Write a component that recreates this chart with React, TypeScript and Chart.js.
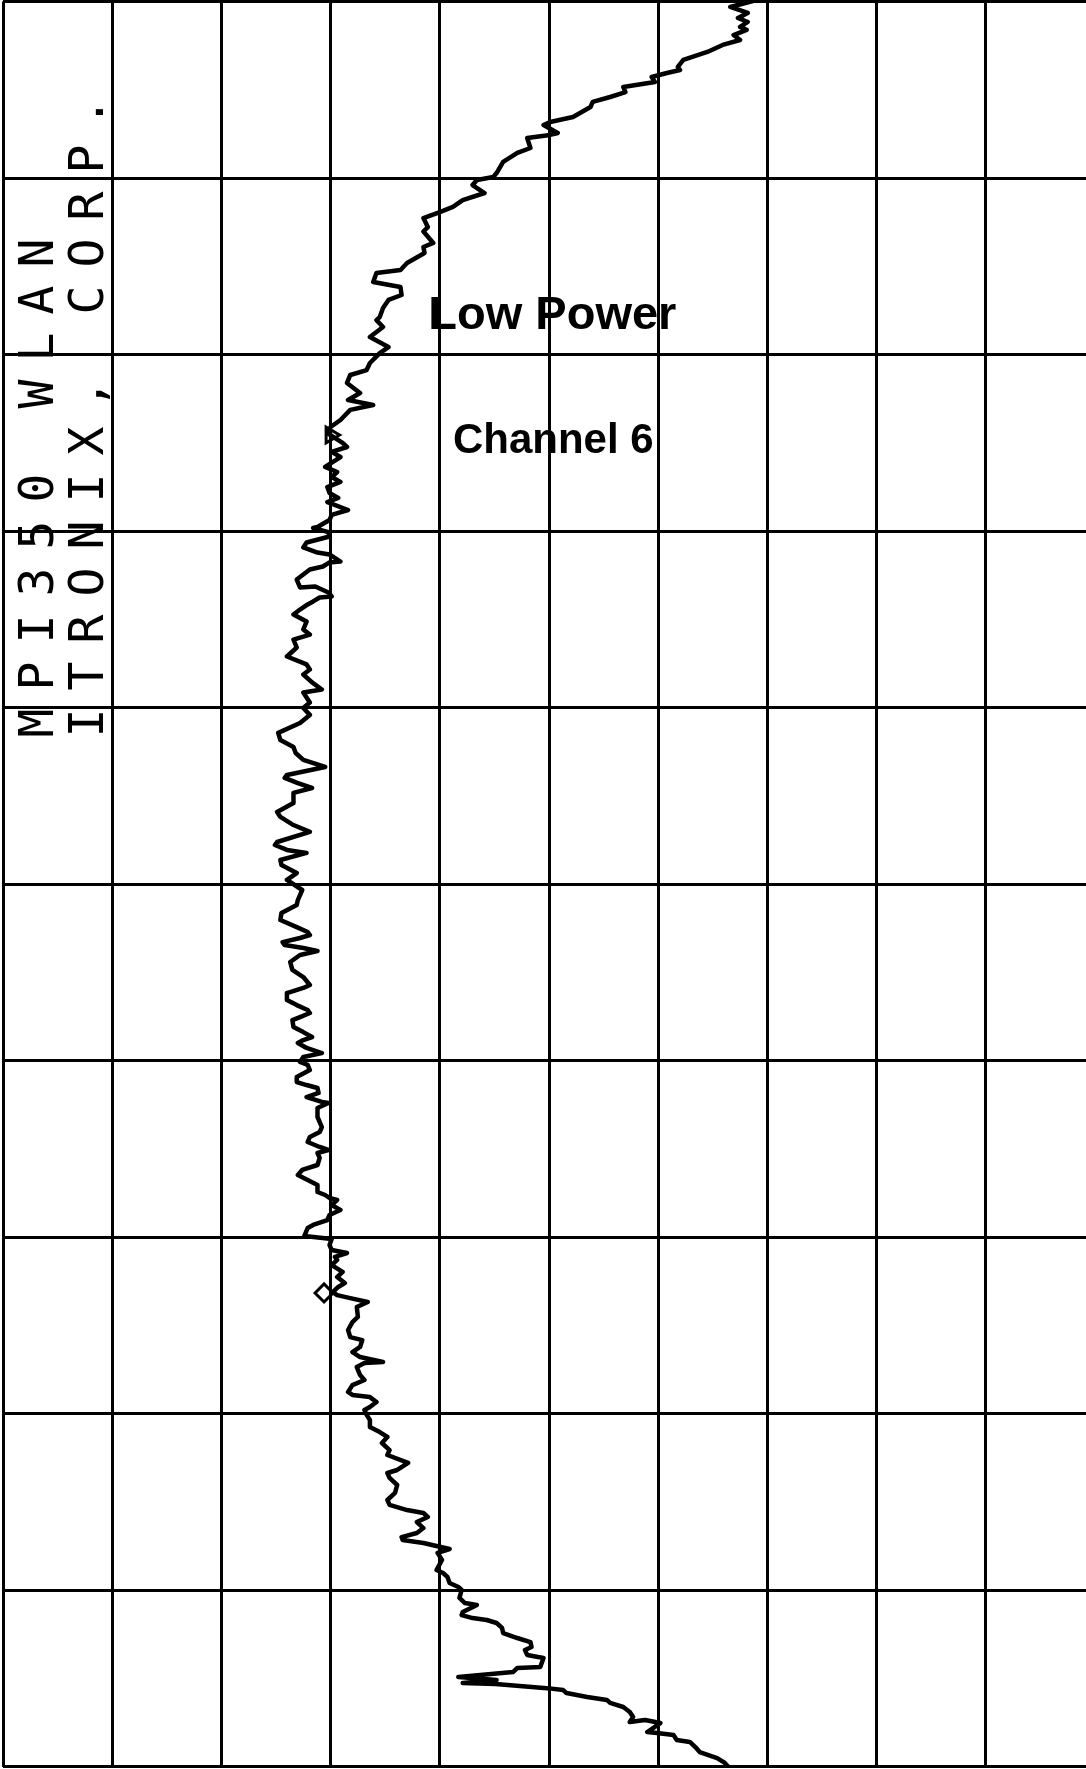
import React, { useEffect, useRef } from "react";
import { Chart, registerables } from "chart.js";

Chart.register(...registerables);

// Power axis (horizontal, in divisions from the left edge)
const tracePower = [
  6.91, 6.66, 6.82, 6.73, 6.82, 6.75, 6.81, 6.69, 6.75, 6.59,
  6.45, 6.23, 6.18, 6.20, 6.08, 5.94, 5.97, 5.68, 5.70, 5.56,
  5.40, 5.38, 5.22, 5.01, 4.95, 5.08, 5.01, 4.80, 4.83, 4.71,
  4.58, 4.52, 4.49, 4.34, 4.30, 4.41, 4.21, 4.12, 4.00, 3.85,
  3.89, 3.85, 3.94, 3.85, 3.86, 3.70, 3.64, 3.42, 3.39, 3.64,
  3.65, 3.53, 3.48, 3.45, 3.42, 3.48, 3.36, 3.53, 3.45, 3.36,
  3.33, 3.18, 3.15, 3.27, 3.16, 3.39, 3.18, 3.09, 3.00, 2.97,
  3.11, 3.15, 3.01, 3.09, 2.95, 3.06, 3.01, 3.09, 2.97, 2.99,
  3.07, 2.97, 3.16, 3.01, 2.99, 2.88, 2.84, 2.98, 2.99, 2.78,
  2.75, 2.88, 2.99, 3.09, 2.99, 2.93, 2.81, 2.69, 2.72, 2.86,
  2.98, 3.01, 2.90, 2.84, 2.79, 2.72, 2.66, 2.78, 2.75, 2.81,
  2.66, 2.69, 2.60, 2.78, 2.81, 2.75, 2.83, 2.92, 2.75, 2.81,
  2.75, 2.81, 2.72, 2.52, 2.54, 2.66, 2.68, 2.75, 2.95, 2.60,
  2.58, 2.70, 2.83, 2.66, 2.66, 2.51, 2.54, 2.66, 2.81, 2.51,
  2.49, 2.60, 2.78, 2.54, 2.55, 2.69, 2.60, 2.74, 2.70, 2.69,
  2.55, 2.54, 2.69, 2.79, 2.81, 2.72, 2.56, 2.58, 2.75, 2.88,
  2.72, 2.63, 2.65, 2.75, 2.81, 2.75, 2.60, 2.60, 2.69, 2.79,
  2.81, 2.72, 2.65, 2.66, 2.75, 2.83, 2.75, 2.70, 2.78, 2.92,
  2.75, 2.72, 2.79, 2.81, 2.69, 2.69, 2.78, 2.88, 2.89, 2.78,
  2.92, 2.98, 2.88, 2.88, 2.92, 2.90, 2.81, 2.79, 2.90, 2.98,
  2.88, 2.90, 2.88, 2.74, 2.70, 2.79, 2.88, 2.88, 2.95, 2.99,
  3.06, 3.01, 3.09, 2.99, 2.97, 2.84, 2.79, 2.76, 3.01, 2.99,
  3.01, 3.15, 3.04, 3.06, 3.01, 3.11, 3.06, 3.13, 3.07, 3.02,
  3.06, 3.18, 3.34, 3.24, 3.25, 3.20, 3.16, 3.18, 3.29, 3.27,
  3.20, 3.27, 3.48, 3.31, 3.24, 3.27, 3.31, 3.20, 3.16, 3.20,
  3.36, 3.42, 3.36, 3.31, 3.33, 3.36, 3.36, 3.45, 3.52, 3.47,
  3.54, 3.52, 3.71, 3.61, 3.52, 3.54, 3.61, 3.59, 3.52, 3.54,
  3.70, 3.85, 3.89, 3.79, 3.85, 3.79, 3.65, 3.66, 3.85, 4.09,
  3.98, 4.02, 3.97, 4.03, 4.07, 4.09, 4.17, 4.20, 4.18, 4.23,
  4.34, 4.21, 4.20, 4.30, 4.43, 4.52, 4.57, 4.58, 4.71, 4.83,
  4.84, 4.78, 4.80, 4.90, 4.95, 4.92, 4.71, 4.67, 4.17, 4.52,
  4.21, 4.51, 4.98, 5.13, 5.16, 5.35, 5.53, 5.56, 5.68, 5.74,
  5.77, 5.74, 5.88, 6.02, 5.90, 5.99, 6.14, 6.17, 6.29, 6.34,
  6.38, 6.54, 6.61, 6.66,
];

// Frequency axis (vertical, in divisions from the top edge)
const traceFreq = [
  -0.01, 0.031, 0.065, 0.093, 0.116, 0.144, 0.161, 0.190, 0.218, 0.246,
  0.286, 0.331, 0.371, 0.388, 0.405, 0.428, 0.456, 0.484, 0.513, 0.541,
  0.569, 0.598, 0.654, 0.683, 0.700, 0.745, 0.756, 0.773, 0.830, 0.858,
  0.909, 0.972, 0.994, 1.011, 1.040, 1.085, 1.125, 1.164, 1.193, 1.227,
  1.278, 1.303, 1.368, 1.391, 1.425, 1.482, 1.521, 1.538, 1.589, 1.618,
  1.663, 1.691, 1.737, 1.788, 1.805, 1.844, 1.901, 1.958, 1.992, 2.048,
  2.088, 2.116, 2.161, 2.218, 2.258, 2.286, 2.314, 2.371, 2.411, 2.445,
  2.501, 2.524, 2.552, 2.581, 2.637, 2.666, 2.694, 2.722, 2.751, 2.785,
  2.813, 2.836, 2.881, 2.909, 2.938, 2.977, 2.983, 3.006, 3.031, 3.065,
  3.093, 3.122, 3.133, 3.173, 3.178, 3.201, 3.218, 3.275, 3.320, 3.314,
  3.348, 3.371, 3.377, 3.399, 3.416, 3.445, 3.473, 3.513, 3.558, 3.587,
  3.615, 3.660, 3.711, 3.756, 3.785, 3.813, 3.858, 3.898, 3.915, 3.972,
  4.003, 4.042, 4.088, 4.144, 4.184, 4.224, 4.258, 4.297, 4.337, 4.382,
  4.399, 4.428, 4.456, 4.484, 4.541, 4.592, 4.620, 4.666, 4.705, 4.762,
  4.779, 4.807, 4.824, 4.864, 4.892, 4.938, 4.977, 5.034, 5.091, 5.119,
  5.164, 5.204, 5.244, 5.272, 5.289, 5.306, 5.329, 5.346, 5.363, 5.380,
  5.402, 5.442, 5.487, 5.527, 5.572, 5.589, 5.618, 5.657, 5.686, 5.714,
  5.731, 5.754, 5.771, 5.810, 5.839, 5.867, 5.884, 5.901, 5.929, 5.958,
  5.980, 6.008, 6.025, 6.054, 6.093, 6.122, 6.139, 6.156, 6.184, 6.207,
  6.235, 6.241, 6.269, 6.320, 6.377, 6.405, 6.433, 6.462, 6.490, 6.507,
  6.524, 6.552, 6.592, 6.620, 6.649, 6.677, 6.705, 6.745, 6.762, 6.779,
  6.790, 6.819, 6.847, 6.875, 6.904, 6.932, 6.949, 6.994, 7.011, 7.045,
  7.074, 7.091, 7.113, 7.130, 7.159, 7.198, 7.227, 7.261, 7.283, 7.312,
  7.329, 7.346, 7.368, 7.397, 7.453, 7.482, 7.527, 7.567, 7.584, 7.623,
  7.652, 7.680, 7.708, 7.714, 7.737, 7.782, 7.810, 7.839, 7.878, 7.895,
  7.907, 7.935, 7.963, 7.980, 8.008, 8.037, 8.076, 8.105, 8.133, 8.167,
  8.207, 8.235, 8.280, 8.320, 8.337, 8.365, 8.405, 8.450, 8.490, 8.518,
  8.547, 8.564, 8.586, 8.615, 8.649, 8.677, 8.700, 8.717, 8.734, 8.768,
  8.790, 8.830, 8.887, 8.904, 8.926, 8.960, 8.983, 9.000, 9.045, 9.074,
  9.085, 9.125, 9.142, 9.159, 9.170, 9.187, 9.215, 9.244, 9.272, 9.295,
  9.323, 9.340, 9.368, 9.380, 9.385, 9.436, 9.442, 9.465, 9.493, 9.510,
  9.527, 9.533, 9.556, 9.567, 9.584, 9.606, 9.623, 9.640, 9.663, 9.691,
  9.720, 9.748, 9.737, 9.754, 9.805, 9.810, 9.822, 9.850, 9.861, 9.890,
  9.918, 9.952, 9.980, 10.014,
];

// Analyzer markers
const markerPower = [3.0, 2.94];
const markerFreq = [2.456, 7.317];
const markerShapes = ["triangle", "rectRot"];
const markerAngles = [90, 0];

// Grid divisions
const powerRange = [0, 10];
const freqRange = [0, 10];

// Texts
const titleLine1 = "MPI350 WLAN";
const titleLine2 = "ITRONIX, CORP.";
const noteLine1 = "Low Power";
const noteLine2 = "Channel 6";

const textPlugin = {
  id: "plotTexts",
  afterDatasetsDraw(chart: any) {
    const { ctx, scales } = chart;
    const x = scales.x;
    const y = scales.y;
    ctx.save();
    ctx.fillStyle = "#000";
    ctx.textBaseline = "alphabetic";
    ctx.textAlign = "left";
    ctx.font = "bold 47px 'Liberation Sans', Arial, sans-serif";
    ctx.fillText(noteLine1, x.getPixelForValue(3.895), y.getPixelForValue(1.855));
    ctx.font = "bold 42px 'Liberation Sans', Arial, sans-serif";
    ctx.fillText(noteLine2, x.getPixelForValue(4.12), y.getPixelForValue(2.558));

    // vertical plotter-style titles, reading bottom to top
    const drawVertical = (text: string, baseX: number, startY: number) => {
      ctx.save();
      ctx.translate(baseX, startY);
      ctx.rotate(-Math.PI / 2);
      ctx.font = "48px 'DejaVu Sans Mono', monospace";
      ctx.textAlign = "center";
      ctx.textBaseline = "alphabetic";
      for (let i = 0; i < text.length; i++) {
        ctx.fillText(text[i], i * 47, 0);
      }
      ctx.restore();
    };
    drawVertical(titleLine1, 53, 723);
    drawVertical(titleLine2, 103, 723);
    ctx.restore();
  },
};

export default function App() {
  const canvasRef = useRef<HTMLCanvasElement | null>(null);

  useEffect(() => {
    const canvas = canvasRef.current;
    if (!canvas) return;
    const traceData = tracePower.map((p, i) => ({ x: p, y: traceFreq[i] }));
    const markerData = markerPower.map((p, i) => ({ x: p, y: markerFreq[i] }));
    const gridStyle = { color: "#000", lineWidth: 3, drawTicks: false };
    const chart = new Chart(canvas, {
      type: "scatter",
      data: {
        datasets: [
          {
            data: traceData,
            showLine: true,
            borderColor: "#000",
            backgroundColor: "#000",
            borderWidth: 4.5,
            pointRadius: 0,
            pointHoverRadius: 0,
            tension: 0,
            borderJoinStyle: "round",
            borderCapStyle: "round",
          } as any,
          {
            data: markerData,
            showLine: false,
            pointStyle: markerShapes as any,
            rotation: markerAngles as any,
            pointRadius: 9,
            pointBorderWidth: 3,
            borderColor: "#000",
            backgroundColor: "rgba(255,255,255,0)",
          } as any,
        ],
      },
      options: {
        responsive: false,
        maintainAspectRatio: false,
        animation: false,
        devicePixelRatio: 1,
        events: [],
        layout: { autoPadding: false, padding: { left: 3, top: 1.5, right: 5, bottom: 2.5 } },
        plugins: {
          legend: { display: false },
          tooltip: { enabled: false },
          title: { display: false },
        },
        scales: {
          x: {
            type: "linear",
            min: powerRange[0],
            max: powerRange[1],
            ticks: { display: false, stepSize: 1 },
            grid: gridStyle,
            border: { display: false },
          },
          y: {
            type: "linear",
            min: freqRange[0],
            max: freqRange[1],
            reverse: true,
            ticks: { display: false, stepSize: 1 },
            grid: gridStyle,
            border: { display: false },
          },
        },
      } as any,
      plugins: [textPlugin],
    });
    return () => chart.destroy();
  }, []);

  return (
    <div
      style={{
        position: "absolute",
        left: 0,
        top: 0,
        width: 1086,
        height: 1769,
        overflow: "hidden",
        background: "#fff",
      }}
    >
      <canvas
        ref={canvasRef}
        width={1100}
        height={1769}
        style={{ display: "block", width: 1100, height: 1769 }}
      />
    </div>
  );
}
